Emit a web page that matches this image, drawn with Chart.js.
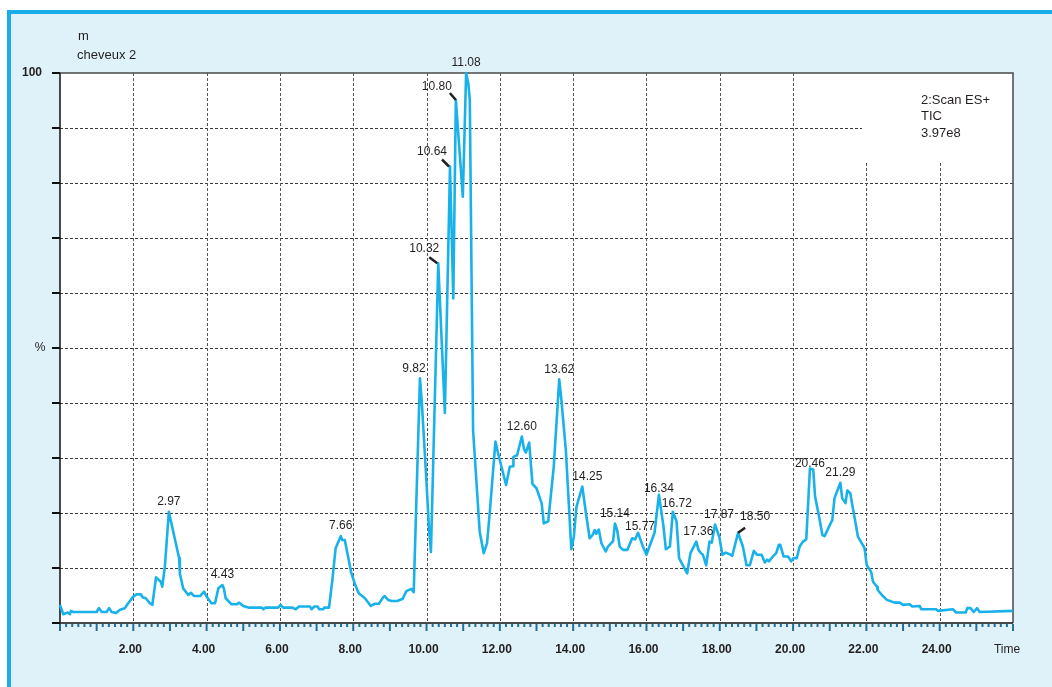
<!DOCTYPE html>
<html>
<head>
<meta charset="utf-8">
<script src="https://cdn.jsdelivr.net/npm/chart.js@4/dist/chart.umd.min.js"></script>
<style>
  html, body { margin: 0; padding: 0; background: #ffffff; }
  canvas { display: block; }
</style>
</head>
<body>
<canvas id="tic" width="1052" height="687"></canvas>
<script>
// Retention time (min) of each sampled scan
const retentionTimes = [
  0.00, 0.09, 0.21, 0.27, 0.30, 0.36, 1.00, 1.06, 1.14, 1.27,
  1.34, 1.41, 1.52, 1.64, 1.77, 1.86, 2.00, 2.09, 2.21, 2.25,
  2.34, 2.45, 2.52, 2.62, 2.75, 2.79, 2.86, 2.97, 3.02, 3.14,
  3.25, 3.27, 3.36, 3.50, 3.57, 3.66, 3.82, 3.93, 4.00, 4.13,
  4.23, 4.32, 4.43, 4.47, 4.52, 4.68, 4.82, 4.89, 5.00, 5.14,
  5.50, 5.55, 5.60, 5.95, 6.02, 6.09, 6.34, 6.43, 6.52, 6.82,
  6.86, 6.94, 7.03, 7.07, 7.18, 7.21, 7.34, 7.43, 7.52, 7.66,
  7.70, 7.77, 7.94, 8.04, 8.15, 8.32, 8.48, 8.59, 8.70, 8.82,
  8.86, 8.95, 9.05, 9.20, 9.35, 9.45, 9.58, 9.65, 9.82, 9.87,
  9.98, 10.07, 10.12, 10.32, 10.36, 10.50, 10.64, 10.73, 10.80, 10.99,
  11.08, 11.14, 11.18, 11.27, 11.45, 11.56, 11.65, 11.73, 11.88, 11.95,
  12.17, 12.27, 12.36, 12.37, 12.47, 12.60, 12.66, 12.71, 12.80, 12.89,
  13.00, 13.14, 13.20, 13.32, 13.47, 13.62, 13.68, 13.80, 13.95, 14.02,
  14.09, 14.25, 14.35, 14.45, 14.53, 14.59, 14.63, 14.70, 14.77, 14.89,
  14.95, 15.09, 15.14, 15.20, 15.27, 15.36, 15.48, 15.61, 15.69, 15.77,
  15.91, 16.00, 16.22, 16.34, 16.46, 16.53, 16.64, 16.72, 16.82, 16.89,
  17.11, 17.20, 17.36, 17.42, 17.50, 17.54, 17.63, 17.72, 17.78, 17.87,
  17.99, 18.07, 18.16, 18.27, 18.34, 18.50, 18.63, 18.73, 18.82, 18.93,
  19.02, 19.14, 19.23, 19.29, 19.34, 19.45, 19.54, 19.61, 19.65, 19.74,
  19.86, 19.95, 20.01, 20.10, 20.18, 20.27, 20.36, 20.46, 20.55, 20.60,
  20.71, 20.80, 20.86, 21.00, 21.07, 21.13, 21.29, 21.34, 21.43, 21.48,
  21.56, 21.77, 21.95, 22.01, 22.13, 22.18, 22.29, 22.31, 22.45, 22.56,
  22.77, 22.91, 23.00, 23.18, 23.25, 23.45, 23.50, 23.91, 23.95, 24.36,
  24.45, 24.71, 24.75, 24.84, 24.93, 25.02, 25.09, 26.00
];

// Total ion current, % of the base peak
const ticIntensity = [
  3.3, 1.6, 1.9, 1.6, 2.2, 2.0, 2.0, 2.7, 2.0, 2.0,
  2.7, 2.0, 1.8, 2.4, 2.7, 3.6, 4.8, 5.2, 5.2, 4.7,
  4.5, 3.6, 3.3, 8.3, 7.5, 6.6, 10.2, 20.2, 18.7, 15.1,
  11.8, 9.0, 6.3, 5.1, 5.5, 4.9, 4.9, 5.7, 4.8, 3.6,
  3.6, 6.3, 6.9, 6.3, 4.5, 3.4, 3.4, 3.7, 3.1, 2.8,
  2.8, 2.5, 2.8, 2.8, 3.3, 2.8, 2.8, 2.5, 3.0, 3.0,
  2.5, 3.0, 3.0, 2.5, 2.5, 2.8, 2.8, 7.8, 13.6, 15.8,
  15.1, 15.1, 9.3, 7.2, 5.4, 4.5, 3.1, 3.5, 3.5, 4.7,
  4.9, 4.2, 4.0, 4.0, 4.4, 5.8, 6.2, 5.6, 44.5, 40.2,
  27.8, 16.9, 12.9, 65.4, 59.3, 38.2, 83.0, 59.0, 95.1, 77.5,
  100.0, 98.1, 95.1, 35.0, 16.6, 12.7, 14.5, 20.5, 33.0, 30.9,
  25.1, 28.4, 28.5, 30.2, 30.5, 33.9, 31.6, 31.0, 32.8, 25.3,
  24.5, 21.8, 18.1, 18.5, 28.4, 44.3, 40.5, 31.5, 13.4, 15.7,
  21.1, 24.8, 19.9, 15.4, 16.0, 16.9, 16.2, 17.0, 14.5, 13.0,
  13.9, 14.9, 18.1, 16.9, 13.9, 13.3, 13.3, 15.4, 15.2, 16.4,
  13.8, 12.4, 16.4, 23.3, 17.8, 13.4, 13.9, 20.2, 18.5, 11.8,
  9.0, 12.7, 14.8, 13.3, 12.6, 12.4, 10.5, 14.8, 14.6, 17.9,
  15.6, 12.4, 12.8, 12.5, 12.2, 16.4, 13.9, 10.5, 10.5, 13.1,
  12.4, 12.4, 11.0, 11.5, 11.2, 12.1, 12.7, 14.2, 14.2, 12.1,
  12.1, 11.2, 11.8, 11.8, 13.9, 14.8, 15.2, 28.1, 27.9, 23.0,
  19.3, 16.0, 15.8, 17.8, 18.7, 22.7, 25.5, 22.7, 21.8, 24.1,
  23.6, 15.7, 13.6, 10.5, 9.3, 7.5, 6.6, 6.0, 4.9, 4.2,
  3.7, 3.7, 3.3, 3.4, 3.0, 3.1, 2.5, 2.5, 2.2, 2.5,
  1.9, 1.9, 2.7, 2.7, 2.0, 2.7, 2.0, 2.2
];

// Annotated peak apexes (retention times)
const peakLabels = [
  '2.97', '4.43', '7.66', '9.82', '10.32', '10.64', '10.80', '11.08',
  '12.60', '13.62', '14.25', '15.14', '15.77', '16.34', '16.72',
  '17.36', '17.87', '18.50', '20.46', '21.29'
];

const xTickValues = [2, 4, 6, 8, 10, 12, 14, 16, 18, 20, 22, 24];
const xTickLabels = ['2.00', '4.00', '6.00', '8.00', '10.00', '12.00',
                     '14.00', '16.00', '18.00', '20.00', '22.00', '24.00'];
const sampleLines = ['m', 'cheveux 2'];
const scanLines = ['2:Scan ES+', 'TIC', '3.97e8'];

// Placement of the peak annotations relative to their apex (pixels)
const labelPlacement = {
  '9.82':  { dx: -6 },
  '10.32': { dx: -14, dy: -5, leader: [-9, -6, -1, 0] },
  '10.64': { dx: -18, dy: -5, leader: [-8, -7, -1, 0] },
  '10.80': { dx: -19, dy: -3, leader: [-6, -7, 0, 0] },
  '14.25': { dx: 5 },
  '15.77': { dx: 2, dy: 4 },
  '16.34': { dy: 4 },
  '16.72': { dx: 4, dy: 2 },
  '17.36': { dx: 2 },
  '17.87': { dx: 4 },
  '18.50': { dx: 17, dy: -6, leader: [0, 0, 7, -5] },
  '20.46': { dy: 5 }
};

const FONT = '"Liberation Sans", Arial, Helvetica, sans-serif';
const INK = '#231f20';

const points = retentionTimes.map((t, i) => ({ x: t, y: ticIntensity[i] }));

const chromatogramFrame = {
  id: 'chromatogramFrame',
  beforeDraw(chart) {
    const { ctx, width, height, chartArea: a } = chart;
    const xs = chart.scales.x, ys = chart.scales.y;
    ctx.save();
    // page and panel
    ctx.fillStyle = '#ffffff';
    ctx.fillRect(0, 0, width, height);
    ctx.fillStyle = '#dff1f9';
    ctx.fillRect(7, 10, width - 7, height - 10);
    ctx.fillStyle = '#18ade6';
    ctx.fillRect(7, 10, width - 7, 4);
    ctx.fillRect(7, 10, 4, height - 10);
    // plot background
    ctx.fillStyle = '#ffffff';
    ctx.fillRect(a.left, a.top, a.right - a.left, a.bottom - a.top);

    // dashed grid
    ctx.lineWidth = 1;
    ctx.setLineDash([3, 2]);
    ctx.strokeStyle = '#3a3a3a';
    for (let v = 10; v < 100; v += 10) {
      const y = Math.round(ys.getPixelForValue(v)) + 0.5;
      ctx.beginPath(); ctx.moveTo(a.left, y); ctx.lineTo(a.right, y); ctx.stroke();
    }
    ctx.strokeStyle = '#555555';
    xTickValues.forEach(v => {
      const x = Math.round(xs.getPixelForValue(v)) + 0.5;
      ctx.beginPath(); ctx.moveTo(x, a.top); ctx.lineTo(x, a.bottom); ctx.stroke();
    });
    ctx.setLineDash([]);

    // scan description panel
    ctx.fillStyle = '#ffffff';
    ctx.fillRect(862, a.top, a.right - 862, 88);

    // frame of the plot
    ctx.strokeStyle = '#4a4a4a';
    ctx.lineWidth = 1.5;
    ctx.beginPath();
    ctx.moveTo(a.left, a.top); ctx.lineTo(a.right, a.top); ctx.lineTo(a.right, a.bottom);
    ctx.stroke();
    ctx.strokeStyle = '#111111';
    ctx.beginPath();
    ctx.moveTo(a.left, a.top); ctx.lineTo(a.left, a.bottom); ctx.lineTo(a.right, a.bottom);
    ctx.stroke();

    // intensity ticks
    ctx.strokeStyle = '#111111';
    ctx.lineWidth = 2;
    for (let v = 0; v <= 100; v += 10) {
      const y = Math.round(ys.getPixelForValue(v));
      ctx.beginPath(); ctx.moveTo(a.left - 8, y); ctx.lineTo(a.left, y); ctx.stroke();
    }

    // time ticks: every minute and every 10 s
    ctx.strokeStyle = '#256f96';
    ctx.lineWidth = 2;
    const steps = Math.round(xs.max * 6);
    for (let i = 0; i <= steps; i++) {
      const x = xs.getPixelForValue(i / 6);
      const major = i % 6 === 0;
      ctx.beginPath();
      ctx.moveTo(x, a.bottom + 1);
      ctx.lineTo(x, a.bottom + (major ? 8 : 4));
      ctx.stroke();
    }

    // axis texts
    ctx.fillStyle = INK;
    ctx.textBaseline = 'middle';
    ctx.textAlign = 'center';
    ctx.font = 'bold 12px ' + FONT;
    xTickValues.forEach((v, i) => ctx.fillText(xTickLabels[i], xs.getPixelForValue(v) - 3, 650));
    ctx.font = '12px ' + FONT;
    ctx.fillText('Time', 1007, 650);
    ctx.textAlign = 'right';
    ctx.font = 'bold 12px ' + FONT;
    ctx.fillText('100', 42, ys.getPixelForValue(100));
    ctx.font = '12px ' + FONT;
    ctx.textAlign = 'center';
    ctx.fillText('%', 40, ys.getPixelForValue(50));

    // sample and scan description
    ctx.textAlign = 'left';
    ctx.font = '13px ' + FONT;
    ctx.fillText(sampleLines[0], 78, 36);
    ctx.fillText(sampleLines[1], 77, 55);
    scanLines.forEach((s, i) => ctx.fillText(s, 921, 100 + i * 16.8));
    ctx.restore();
  },
  afterDatasetsDraw(chart) {
    const { ctx } = chart;
    const xs = chart.scales.x, ys = chart.scales.y;
    ctx.save();
    ctx.font = '12px ' + FONT;
    ctx.fillStyle = INK;
    ctx.strokeStyle = INK;
    ctx.textAlign = 'center';
    ctx.textBaseline = 'middle';
    peakLabels.forEach(lbl => {
      const t = parseFloat(lbl);
      const idx = retentionTimes.indexOf(t);
      const px = xs.getPixelForValue(t);
      const py = ys.getPixelForValue(ticIntensity[idx]);
      const p = labelPlacement[lbl] || {};
      ctx.fillText(lbl, px + (p.dx || 0), py - 10 + (p.dy || 0));
      if (p.leader) {
        const l = p.leader;
        ctx.lineWidth = 2.5;
        ctx.beginPath();
        ctx.moveTo(px + l[0], py + l[1]);
        ctx.lineTo(px + l[2], py + l[3]);
        ctx.stroke();
      }
    });
    ctx.restore();
  }
};

new Chart(document.getElementById('tic'), {
  type: 'line',
  data: {
    datasets: [{
      data: points,
      borderColor: '#19b1ea',
      borderWidth: 2.6,
      borderJoinStyle: 'round',
      pointRadius: 0,
      tension: 0,
      fill: false,
      clip: false
    }]
  },
  options: {
    responsive: false,
    animation: false,
    devicePixelRatio: 1,
    layout: { padding: { left: 60, top: 73, right: 39, bottom: 64 } },
    plugins: { legend: { display: false }, tooltip: { enabled: false } },
    scales: {
      x: { type: 'linear', min: 0, max: 26, display: false },
      y: { type: 'linear', min: 0, max: 100, display: false }
    }
  },
  plugins: [chromatogramFrame]
});
</script>
</body>
</html>
